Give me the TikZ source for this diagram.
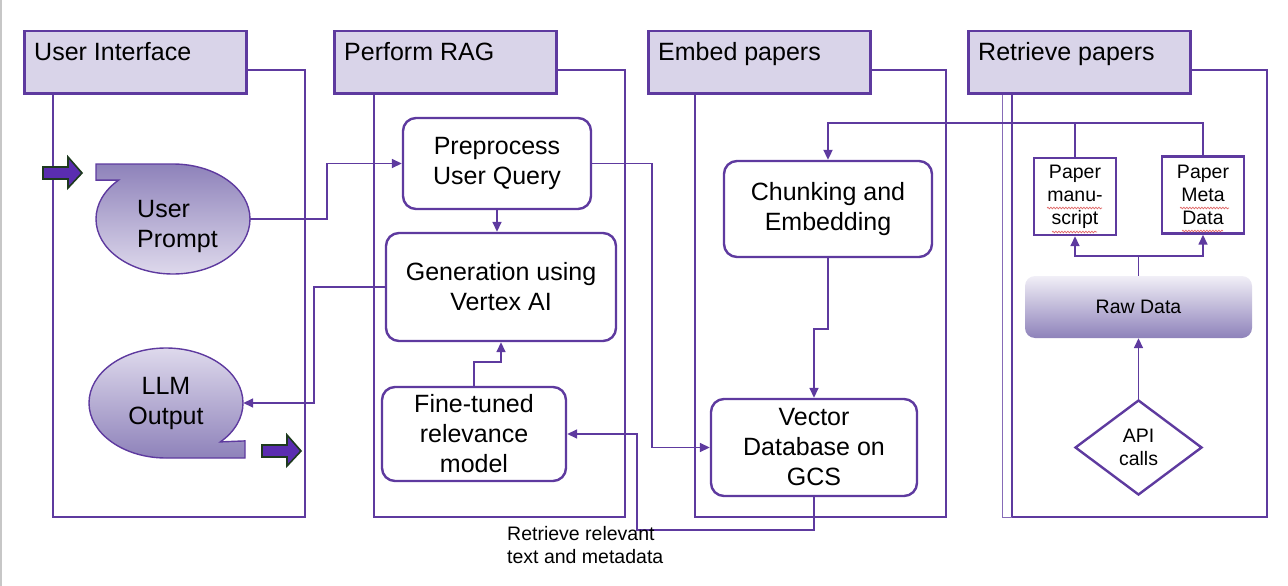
\documentclass[tikz,border=0pt]{standalone}
\usepackage{fontspec}
\setmainfont{Liberation Sans}
\usetikzlibrary{arrows.meta,shapes.geometric,decorations.pathmorphing}
\definecolor{lane}{HTML}{5E3A9F}
\definecolor{headfill}{HTML}{D9D4E9}
\definecolor{bubbledark}{HTML}{8E82BA}
\definecolor{bubblelight}{HTML}{DED9EC}
\definecolor{rawtop}{HTML}{F1EFF7}
\definecolor{rawbottom}{HTML}{8E82BA}
\definecolor{blockfill}{HTML}{5A2DB0}
\definecolor{blockedge}{HTML}{1E3A1E}
\definecolor{spellred}{HTML}{E06666}
\begin{document}
\begin{tikzpicture}[x=1pt,y=-1pt,
  big/.style={font=\fontsize{25}{30}\selectfont},
  small/.style={font=\fontsize{19.5}{23}\selectfont},
  frame/.style={draw=lane,line width=2.5pt},
  head/.style={frame,fill=headfill,minimum width=222pt,minimum height=62pt,inner sep=0pt,anchor=north west},
  title/.style={big,anchor=base west,inner sep=0pt},
  proc/.style={draw=lane,line width=2.4pt,fill=white,rounded corners=13pt,align=center,big,inner sep=2pt},
  doc/.style={draw=lane,line width=2.4pt,fill=white,align=center,small,inner sep=0pt,minimum width=82pt,minimum height=77pt},
  flow/.style={draw=lane,line width=1.6pt,-{Triangle[length=10pt,width=9pt]}},
  block/.style={fill=blockfill,draw=blockedge,line width=1.6pt},
  bubble/.style={draw=lane,line width=1.4pt},
  spell/.style={draw=spellred,line width=.7pt,decorate,decoration={snake,amplitude=.8pt,segment length=3pt}}]
\useasboundingbox (0,0) rectangle (1288,586);
\fill [black!22] (0,0) rectangle (2,586);

% lanes
\draw [frame] (53,70) rectangle (305,517);
\draw [frame] (374,70) rectangle (625,517);
\draw [frame] (695,70) rectangle (946,517);
\draw [frame] (1012,70) rectangle (1267,517);
\draw [lane!75,line width=1pt] (1002,92) |- (1012,517);
\node (uihead) [head] at (23,30) {};
\node (raghead) [head] at (333,30) {};
\node (embedhead) [head] at (647,30) {};
\node (fetchhead) [head] at (967,30) {};
\node (uititle) [title] at (34,60) {User Interface};
\node (ragtitle) [title] at (344,60) {Perform RAG};
\node (embedtitle) [title] at (658,60) {Embed papers};
\node (fetchtitle) [title] at (978,60) {Retrieve papers};

% user interface
\path [bubble,top color=bubbledark,bottom color=bubblelight] (96,164) -- (173,164)
  arc [start angle=-90,end angle=225,x radius=77,y radius=55] -- (96,180.1) -- cycle;
\path [bubble,top color=bubblelight,bottom color=bubbledark] (245,458) -- (166,458)
  arc [start angle=90,end angle=405,x radius=77,y radius=55] -- (245,440.9) -- cycle;
\node (prompt) [ellipse,minimum width=154pt,minimum height=110pt,inner sep=0pt] at (173,219) {};
\node (prompttext) [big,align=left,anchor=base west,inner sep=0pt] at (137,247) {User\\Prompt};
\node (output) [ellipse,minimum width=154pt,minimum height=110pt,inner sep=0pt,big,align=center] at (166,403) {LLM\\Output};
\draw [block] (43,167) -- (68,167) -- (68,157) -- (82,173) -- (68,188) -- (68,179) -- (43,179) -- cycle;
\draw [block] (262,445) -- (287,445) -- (287,435) -- (301,451) -- (287,466) -- (287,457) -- (262,457) -- cycle;

% perform RAG
\node (pre) [proc,minimum width=188pt,minimum height=91pt] at (497,163.5) {Preprocess\\User Query};
\node (gen) [proc,minimum width=230pt,minimum height=108pt] at (501,287) {Generation using\\Vertex AI};
\node (tune) [proc,minimum width=184pt,minimum height=94pt] at (474,434) {Fine-tuned\\relevance\\model};

% embed papers
\node (chunk) [proc,minimum width=208pt,minimum height=96pt] at (828,209) {Chunking and\\Embedding};
\node (vec) [proc,minimum width=206pt,minimum height=97pt] at (814,447.5) {Vector\\Database on\\GCS};

% retrieve papers
\node (script) [doc] at (1075,196.5) {Paper\\manu-\\script};
\node (meta) [doc] at (1203,195) {Paper\\Meta\\Data};
\node (raw) [rounded corners=10pt,top color=rawtop,bottom color=rawbottom,minimum width=227pt,minimum height=62pt,small] at (1138.5,307) {Raw Data};
\node (api) [diamond,draw=lane,line width=2.4pt,aspect=1.34,minimum width=127pt,minimum height=95pt,inner sep=0pt,align=center,small] at (1138.5,447.5) {API\\calls};
\draw [spell] (1047,208) -- (1102,208);
\draw [spell] (1052,232) -- (1097,232);
\draw [spell] (1180,208) -- (1229,208);
\draw [spell] (1182,231) -- (1223,231);

% connectors
\draw [flow] (prompt.east) -- ++(77,0) |- (pre.west);
\draw [flow] (pre.south) -- (pre.south |- gen.north);
\draw [flow] (gen.west) -- ++(-71,0) |- (output.east);
\draw [flow] (tune.north) -- ++(0,-24) -| (gen.south);
\draw [flow] (pre.east) -- ++(60,0) |- (vec.west);
\draw [flow] (vec.south) -- ++(0,33) -- ++(-177,0) |- (tune.east);
\draw [flow] (chunk.south) -- ++(0,71) -| (vec.north);
\draw [flow] (api.north) -- (raw.south);
\draw [flow] (raw.north) -- ++(0,-20) -| (script.south);
\draw [flow] (raw.north) -- ++(0,-20) -| (meta.south);
\draw [lane,line width=1.6pt] (script.north) -- ++(0,-33);
\draw [flow,line width=2pt] (meta.north) -- ++(0,-32) -| (chunk.north);
\node (fetchnote) [small,align=left,anchor=base west,inner sep=0pt] at (507,563) {Retrieve relevant\\text and metadata};
\end{tikzpicture}
\end{document}
